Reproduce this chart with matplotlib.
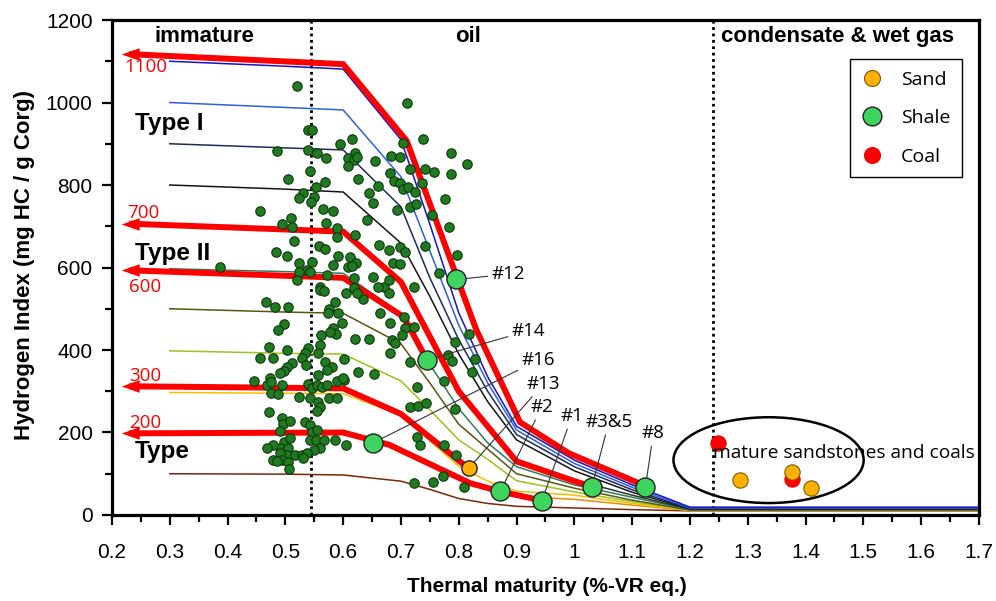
import matplotlib
matplotlib.use("Agg")
import matplotlib.pyplot as plt
from matplotlib.patches import Ellipse
from matplotlib.lines import Line2D
from matplotlib.ticker import MultipleLocator, FormatStrFormatter

plt.rcParams['font.family'] = ['Liberation Sans', 'DejaVu Sans']

# --- model curves (HI vs maturity), one per initial HI ---
knots = [0.3, 0.5, 0.6, 0.7, 0.75, 0.8, 0.85, 0.9, 1.0, 1.1, 1.2, 1.7]
hi_100 = [100, 99, 97, 82, 62, 40, 28, 21, 17, 13, 10, 10]
hi_200 = [200, 199, 198, 160, 125, 88, 62, 45, 38, 24, 11, 11]
hi_300 = [297, 295, 294, 242, 180, 118, 82, 58, 48, 28, 11, 11]
hi_400 = [398, 392, 390, 325, 255, 182, 135, 83, 56, 32, 12, 12]
hi_500 = [500, 492, 489, 415, 320, 220, 160, 100, 65, 36, 12, 12]
hi_600 = [597, 590, 586, 489, 365, 258, 175, 117, 73, 43, 13, 13]
hi_700 = [700, 692, 687, 567, 440, 305, 210, 135, 85, 48, 14, 14]
hi_800 = [800, 790, 783, 659, 530, 390, 275, 182, 107, 55, 15, 15]
hi_900 = [900, 890, 885, 747, 575, 425, 300, 195, 117, 61, 16, 16]
hi_1000 = [1000, 988, 982, 820, 640, 460, 320, 206, 125, 67, 17, 17]
hi_1100 = [1100, 1088, 1081, 910, 705, 490, 335, 215, 133, 73, 19, 19]
model_curves = [hi_100, hi_200, hi_300, hi_400, hi_500, hi_600,
                hi_700, hi_800, hi_900, hi_1000, hi_1100]
model_colors = ['#7a2808', '#f08a00', '#f5c000', '#9cc21c', '#5a5510', '#2e7d5e',
                '#203a28', '#141414', '#1c2c5c', '#2f5fe0', '#1414c8']

# --- red highlight paths (with arrow at left end) ---
red_1100_x = [0.235, 0.6, 0.71, 0.83, 0.906, 0.99, 1.12]
red_1100_y = [1117, 1093, 907, 450, 225, 150, 72]
red_700_x = [0.235, 0.6, 0.7, 0.8, 0.9, 1.03]
red_700_y = [706, 687, 565, 300, 130, 68]
red_600_x = [0.235, 0.6, 0.705, 0.745]
red_600_y = [593, 575, 480, 376]
red_300_x = [0.235, 0.6, 0.7, 0.80, 0.817]
red_300_y = [312, 307, 245, 132, 113]
red_200_x = [0.235, 0.6, 0.68, 0.82, 0.872, 0.944]
red_200_y = [198, 200, 170, 77, 57, 35]
red_paths = [(red_1100_x, red_1100_y, '1100'), (red_700_x, red_700_y, '700'),
             (red_600_x, red_600_y, '600'), (red_300_x, red_300_y, '300'),
             (red_200_x, red_200_y, '200')]
red_label_pos = {'1100': (0.259, 1086), '700': (0.254, 732), '600': (0.257, 553),
                 '300': (0.257, 337), '200': (0.257, 223)}

# --- literature data (dark green) ---
lit_x = [0.540, 0.546, 0.595, 0.616, 0.485, 0.540, 0.555, 0.570, 0.621, 0.609,
         0.618, 0.624, 0.609, 0.543, 0.504, 0.569, 0.626, 0.553, 0.530, 0.524,
         0.550, 0.544, 0.644, 0.457, 0.565, 0.583, 0.509, 0.494, 0.570, 0.641,
         0.511, 0.590, 0.515, 0.621, 0.558, 0.569, 0.484, 0.502, 0.591, 0.611,
         0.622, 0.546, 0.524, 0.583, 0.609, 0.537, 0.543, 0.524, 0.572, 0.618,
         0.521, 0.560, 0.521, 0.711, 0.387,
         0.738, 0.787, 0.814, 0.703, 0.683, 0.699, 0.655, 0.715, 0.742, 0.757,
         0.787, 0.681, 0.688, 0.699, 0.660, 0.704, 0.713, 0.725, 0.651, 0.736,
         0.777, 0.693, 0.715, 0.726, 0.753, 0.783, 0.662, 0.680, 0.699, 0.707,
         0.742, 0.797, 0.686, 0.699, 0.765, 0.652, 0.615, 0.589,
         0.722, 0.817, 0.794, 0.782, 0.788, 0.828, 0.823, 0.722, 0.706, 0.716,
         0.664, 0.681, 0.684, 0.690, 0.681, 0.707, 0.702, 0.670, 0.680,
         0.660, 0.605, 0.618, 0.635, 0.598, 0.621, 0.644, 0.601, 0.602, 0.625,
         0.654, 0.727, 0.774, 0.716, 0.730, 0.744, 0.794, 0.727, 0.733, 0.774,
         0.796, 0.605, 0.723, 0.756, 0.773, 0.809, 0.679,
         0.560, 0.566, 0.467, 0.482, 0.504, 0.586, 0.576, 0.573, 0.591, 0.624,
         0.497, 0.488, 0.562, 0.583, 0.587, 0.578, 0.472, 0.502, 0.456, 0.478,
         0.540, 0.534, 0.560, 0.557, 0.528, 0.536, 0.511, 0.502, 0.497, 0.490,
         0.474, 0.468, 0.476, 0.446, 0.557, 0.569, 0.580, 0.572, 0.589, 0.600,
         0.494, 0.476, 0.488, 0.523, 0.540, 0.546, 0.554, 0.563, 0.572, 0.543,
         0.557, 0.560, 0.554, 0.575, 0.589, 0.471, 0.494, 0.496, 0.508, 0.491,
         0.534, 0.543, 0.546, 0.554, 0.497, 0.508, 0.491, 0.479, 0.468, 0.543,
         0.553, 0.566, 0.586, 0.560, 0.549, 0.505, 0.502, 0.490, 0.479, 0.494,
         0.505, 0.517, 0.528, 0.537, 0.531, 0.507, 0.485]
lit_hi = [933, 933, 899, 911, 882, 886, 877, 866, 877, 865,
          861, 869, 846, 834, 815, 808, 815, 794, 781, 768,
          772, 760, 780, 738, 742, 738, 721, 705, 707, 715,
          697, 696, 665, 679, 652, 644, 638, 629, 629, 626,
          612, 614, 612, 606, 602, 594, 588, 590, 582, 574,
          570, 553, 1041, 1000, 602,
          912, 878, 851, 901, 870, 869, 859, 840, 840, 832,
          827, 830, 810, 804, 798, 790, 796, 784, 757, 804,
          765, 739, 747, 754, 727, 697, 655, 642, 650, 638,
          653, 630, 610, 608, 586, 578, 604, 675,
          553, 439, 420, 388, 373, 378, 347, 456, 481, 372,
          489, 465, 424, 416, 392, 453, 436, 553, 570,
          553, 537, 550, 523, 465, 426, 426, 377, 327, 347,
          341, 310, 325, 263, 264, 271, 256, 188, 170, 170,
          145, 170, 77, 79, 95, 69, 537,
          545, 543, 516, 505, 505, 516, 499, 489, 489, 537,
          462, 448, 436, 453, 440, 444, 407, 400, 381, 381,
          404, 392, 412, 392, 381, 364, 368, 360, 349, 344,
          331, 315, 323, 325, 339, 372, 360, 352, 325, 331,
          315, 295, 293, 287, 317, 307, 315, 311, 315, 284,
          275, 263, 252, 283, 284, 249, 236, 220, 228, 204,
          225, 218, 202, 206, 178, 186, 163, 170, 163, 182,
          182, 182, 182, 163, 158, 163, 145, 150, 133, 133,
          129, 145, 145, 150, 137, 111, 131]

# --- this study: numbered shale samples + sand sample #13 ---
sample_names = ['#12', '#14', '#16', '#13', '#2', '#1', '#3&5', '#8']
sample_x = [0.796, 0.745, 0.652, 0.817, 0.872, 0.944, 1.030, 1.123]
sample_hi = [571, 376, 175, 113, 57, 35, 67, 69]
sample_type = ['Shale', 'Shale', 'Shale', 'Sand', 'Shale', 'Shale', 'Shale', 'Shale']
label_x = [0.857, 0.892, 0.909, 0.918, 0.924, 0.976, 1.019, 1.117]
label_hi = [584, 447, 376, 318, 262, 240, 226, 199]

# mature sandstones and coals
mature_x = [1.248, 1.286, 1.377, 1.377, 1.409]
mature_hi = [175, 85, 87, 105, 65]
mature_type = ['Coal', 'Sand', 'Coal', 'Sand', 'Sand']

type_colors = {'Sand': '#ffb000', 'Shale': '#3ed45e', 'Coal': '#ff0000'}

zone_bounds = [0.545, 1.24]

fig = plt.figure(figsize=(9.96, 6.01), dpi=100)
ax = fig.add_axes([0.1124, 0.1431, 0.8705, 0.8236])

# thin model curves
for hi, col in zip(model_curves, model_colors):
    ax.plot(knots, hi, color=col, lw=1.1, zorder=2)

# red paths with arrow heads
head = [(-0.6, 0), (0.4, 0.35), (0.4, -0.35)]
for xs, ys, name in red_paths:
    ax.plot(xs, ys, color='#ff0000', lw=4.3, solid_joinstyle='miter', zorder=3)
    ax.plot(xs[0], ys[0], marker=head, ms=15.5, color='#ff0000', mew=0, zorder=3)
    lx, ly = red_label_pos[name]
    ax.text(lx, ly, name, color='#ff0000', fontsize=13.5, family='Open Sans',
            ha='center', va='center', zorder=4)

# zone boundaries
for xb in zone_bounds:
    ax.axvline(xb, color='black', lw=2, ls=(0, (1, 1.3)), zorder=1)

ax.plot(lit_x, lit_hi, 'o', color='#217a21', mec='#0b3a0b', mew=0.8, ms=6.8,
        zorder=5, linestyle='none')

# ellipse around mature samples
ax.add_patch(Ellipse((1.336, 133), 0.329, 208, fill=False, ec='black', lw=1.8, zorder=4))
ax.text(1.2405, 150, 'mature sandstones and coals', fontsize=13.8, family='Open Sans',
        ha='left', va='center', zorder=7)

for x, y, t in zip(mature_x, mature_hi, mature_type):
    ax.plot(x, y, 'o', color=type_colors[t], mec='#7a5a00' if t == 'Sand' else '#ff0000',
            mew=0.8, ms=11, zorder=6)

for name, x, y, t, lx, ly in zip(sample_names, sample_x, sample_hi, sample_type,
                                 label_x, label_hi):
    size = 11 if t == 'Sand' else 13.7
    ax.plot(x, y, 'o', color=type_colors[t], mec='#222222', mew=1.0, ms=size, zorder=8)
    ax.annotate(name, xy=(x, y), xytext=(lx, ly), fontsize=13.5, family='Open Sans',
                ha='left', va='center', zorder=7,
                arrowprops=dict(arrowstyle='-', color='#333333', lw=0.8,
                                shrinkA=1, shrinkB=0))

# zone names
ax.text(0.36, 1147, 'immature', fontsize=16, fontweight='bold', ha='center', va='baseline')
ax.text(0.816, 1147, 'oil', fontsize=16, fontweight='bold', ha='center', va='baseline')
ax.text(1.456, 1147, 'condensate & wet gas', fontsize=16, fontweight='bold',
        ha='center', va='baseline')

# kerogen types
ax.text(0.24, 933, 'Type I', fontsize=17.5, fontweight='bold', va='baseline')
ax.text(0.24, 618, 'Type II', fontsize=17.5, fontweight='bold', va='baseline')
ax.text(0.24, 138, 'Type', fontsize=17.5, fontweight='bold', va='baseline')

# legend
handles = [Line2D([], [], ls='none', marker='o', color=type_colors['Sand'], mec='#7a5a00',
                  mew=0.8, ms=11.5),
           Line2D([], [], ls='none', marker='o', color=type_colors['Shale'], mec='#222222',
                  mew=1.0, ms=13.5),
           Line2D([], [], ls='none', marker='o', color=type_colors['Coal'], mec='#ff0000',
                  mew=0.8, ms=11.5)]
leg = ax.legend(handles, ['Sand', 'Shale', 'Coal'], loc='upper right',
                bbox_to_anchor=(0.98, 0.921), borderaxespad=0, fancybox=False,
                framealpha=1, edgecolor='black',
                prop={'family': 'Open Sans', 'size': 14},
                labelspacing=1.05, handletextpad=0.9, borderpad=0.6, handlelength=1.1)
leg.get_frame().set_linewidth(1.0)
leg.set_zorder(10)

ax.set_xlim(0.2, 1.7)
ax.set_ylim(0, 1200)
ax.xaxis.set_major_locator(MultipleLocator(0.1))
ax.xaxis.set_minor_locator(MultipleLocator(0.05))
ax.xaxis.set_major_formatter(FormatStrFormatter('%g'))
ax.yaxis.set_major_locator(MultipleLocator(200))
ax.yaxis.set_minor_locator(MultipleLocator(100))
ax.tick_params(which='major', direction='out', length=7, width=1.6, labelsize=15)
ax.tick_params(which='minor', direction='out', length=5, width=1.6)
ax.tick_params(axis='x', which='major', pad=13)
ax.tick_params(axis='y', which='major', pad=7)
for s in ax.spines.values():
    s.set_linewidth(2.3)

ax.set_xlabel('Thermal maturity (%-VR eq.)', fontsize=15, fontweight='bold')
ax.set_ylabel('Hydrogen Index (mg HC / g Corg)', fontsize=16, fontweight='bold')
ax.xaxis.set_label_coords(0.502, -0.125)
ax.yaxis.set_label_coords(-0.089, 0.505)

fig.savefig('out.png', dpi=100)
